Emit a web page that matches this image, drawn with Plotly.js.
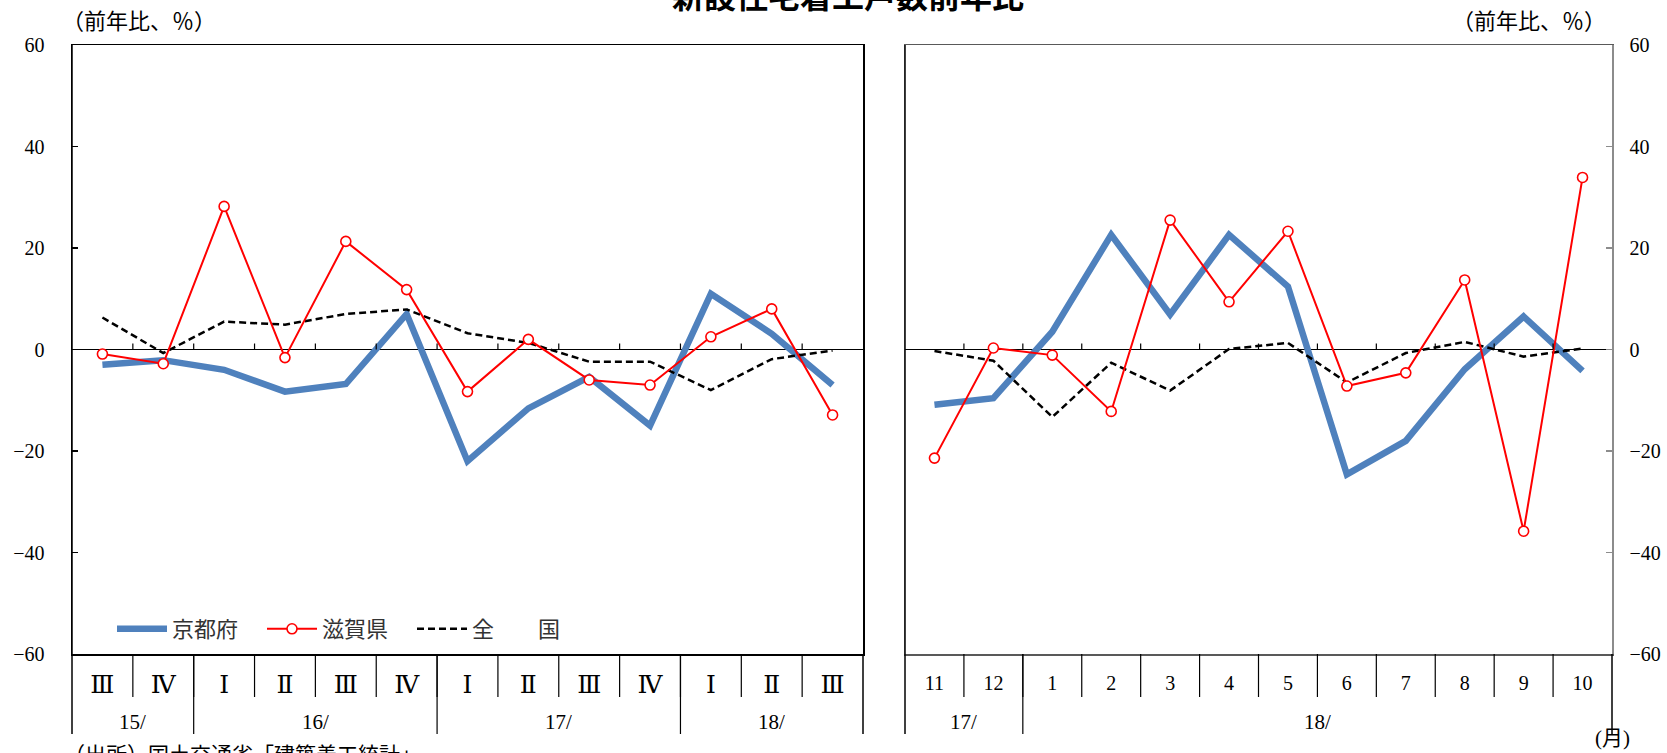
<!DOCTYPE html>
<html><head><meta charset="utf-8">
<script src="https://cdn.plot.ly/plotly-3.0.1.min.js"></script>
<style>html,body{margin:0;padding:0;background:#fff}#chart{width:1667px;height:753px}</style>
</head><body><div id="chart"></div>
<script>
// ---- data: quarterly (left panel) ----
const quarterLabels = ['Ⅲ','Ⅳ','Ⅰ','Ⅱ','Ⅲ','Ⅳ','Ⅰ','Ⅱ','Ⅲ','Ⅳ','Ⅰ','Ⅱ','Ⅲ'];
const quarterYears  = ['15/','15/','16/','16/','16/','16/','17/','17/','17/','17/','18/','18/','18/'];
const kyotoQ    = [-3.0, -2.1, -4.0, -8.3, -6.8, 7.0, -22.0, -11.6, -5.4, -15.0, 11.0, 3.1, -7.0];
const shigaQ    = [-0.9, -2.8, 28.2, -1.6, 21.3, 11.8, -8.3, 2.0, -6.0, -7.0, 2.5, 8.0, -12.9];
const nationalQ = [6.3, -0.7, 5.5, 4.9, 7.0, 7.9, 3.2, 1.3, -2.4, -2.4, -8.0, -1.9, -0.2];

// ---- data: monthly (right panel) ----
const monthLabels = ['11','12','1','2','3','4','5','6','7','8','9','10'];
const monthYears  = ['17/','17/','18/','18/','18/','18/','18/','18/','18/','18/','18/','18/'];
const kyotoM    = [-10.9, -9.6, 3.5, 22.6, 6.9, 22.6, 12.4, -24.6, -18.0, -3.9, 6.5, -4.2];
const shigaM    = [-21.4, 0.3, -1.1, -12.2, 25.5, 9.4, 23.3, -7.2, -4.6, 13.7, -35.8, 33.9];
const nationalM = [-0.3, -2.2, -13.3, -2.6, -8.1, 0.1, 1.3, -6.5, -0.7, 1.5, -1.4, 0.2];

const seriesNames = ['京都府', '滋賀県', '全　　国'];
const yTicks = [-60, -40, -20, 0, 20, 40, 60];
const titleText = '新設住宅着工戸数前年比';
const unitText = '（前年比、％）';
const sourceText = '（出所）国土交通省「建築着工統計」';
const monthUnit = '(月)';

// ---- layout geometry (pixels) ----
const W = 1667, H = 753;
const M = {l: 72, r: 55, t: 45, b: 99};
const PW = W - M.l - M.r, PH = H - M.t - M.b;
const px2x = p => (p - M.l) / PW;
const px2y = p => (H - M.b - p) / PH;

const serif = 'Liberation Serif, DejaVu Serif, Noto Sans CJK JP, serif';
const cjk = 'Liberation Serif, Noto Sans CJK JP, sans-serif';
const blue = '#4F81BD', red = '#FF0000';

const idx = arr => arr.map((_, i) => i);

function panelTraces(xa, ya, k, s, n, showLegend) {
  const x = idx(k);
  return [
    {x: x, y: k, xaxis: xa, yaxis: ya, type: 'scatter', mode: 'lines', name: seriesNames[0],
     line: {color: blue, width: 6.5}, showlegend: showLegend, legendrank: 1, hoverinfo: 'y'},
    {x: x, y: n, xaxis: xa, yaxis: ya, type: 'scatter', mode: 'lines', name: seriesNames[2],
     line: {color: '#000', width: 2.5, dash: '7px,4px'}, showlegend: showLegend, legendrank: 3, hoverinfo: 'y'},
    {x: x, y: s, xaxis: xa, yaxis: ya, type: 'scatter', mode: 'lines+markers', name: seriesNames[1],
     line: {color: red, width: 2},
     marker: {symbol: 'circle', size: 10, color: '#fff', line: {color: red, width: 1.6}},
     showlegend: showLegend, legendrank: 2, hoverinfo: 'y'}
  ];
}

const traces = [].concat(
  panelTraces('x', 'y', kyotoQ, shigaQ, nationalQ, true),
  panelTraces('x2', 'y2', kyotoM, shigaM, nationalM, false)
);

const dom1 = [0, px2x(863)];
const dom2 = [px2x(905), 1];

function xAxis(domain, labels, anchor, lineColor, fontSize, standoff) {
  return {
    domain: domain, anchor: anchor, range: [-0.5, labels.length - 0.5],
    tickmode: 'array', tickvals: idx(labels), ticktext: labels,
    ticks: '', showgrid: false, zeroline: false,
    showline: true, mirror: true, linecolor: lineColor, linewidth: 1.5,
    tickfont: {family: serif, size: fontSize, color: '#000'},
    ticklabelstandoff: standoff, fixedrange: true
  };
}
function yAxis(anchor, side, lineColor, standoff) {
  return {
    anchor: anchor, side: side, range: [-60, 60],
    tickmode: 'array', tickvals: yTicks,
    ticks: 'inside', ticklen: 6, tickwidth: 1.2, tickcolor: lineColor,
    showgrid: false, zeroline: true, zerolinecolor: '#000', zerolinewidth: 1.5,
    showline: true, mirror: true, linecolor: lineColor, linewidth: 1.5,
    tickfont: {family: serif, size: 20, color: '#000'},
    ticklabelstandoff: standoff, fixedrange: true
  };
}

const shapes = [], annotations = [];

function groupShapes(xa, labels, years) {
  const n = labels.length;
  const yQ = px2y(697), yY = px2y(734);
  // inner separators between categories
  for (let i = 0; i < n - 1; i++) {
    shapes.push({type: 'line', xref: xa, yref: 'paper', x0: i + 0.5, x1: i + 0.5, y0: 0, y1: yQ,
                 line: {color: '#000', width: 1.2}});
    // small upward ticks on the zero line
    shapes.push({type: 'line', xref: xa, yref: xa.replace('x', 'y'), ysizemode: 'pixel', yanchor: 0,
                 x0: i + 0.5, x1: i + 0.5, y0: 0, y1: 6, line: {color: '#000', width: 1.2}});
  }
  // group (year) separators and labels
  let start = 0;
  for (let i = 1; i <= n; i++) {
    if (i === n || years[i] !== years[start]) {
      annotations.push({xref: xa, yref: 'paper', x: (start + i - 1) / 2, y: px2y(722),
                        text: years[start], showarrow: false, xanchor: 'center', yanchor: 'middle',
                        font: {family: serif, size: 21, color: '#000'}});
      if (i < n) {
        shapes.push({type: 'line', xref: xa, yref: 'paper', x0: i - 0.5, x1: i - 0.5, y0: 0, y1: yY,
                     line: {color: '#000', width: 1.2}});
      }
      start = i;
    }
  }
  shapes.push({type: 'line', xref: xa + ' domain', yref: 'paper', x0: 0, x1: 0, y0: 1, y1: yY,
               line: {color: '#000', width: 1.5}});
  shapes.push({type: 'line', xref: xa + ' domain', yref: 'paper', x0: 1, x1: 1, y0: 0, y1: yY,
               line: {color: '#000', width: 1.5}});
}
groupShapes('x', quarterLabels, quarterYears);
groupShapes('x2', monthLabels, monthYears);

annotations.push(
  {xref: 'paper', yref: 'paper', x: px2x(848), y: px2y(-6), text: '<b>' + titleText + '</b>',
   showarrow: false, xanchor: 'center', yanchor: 'middle',
   font: {family: 'Noto Sans CJK JP, sans-serif', size: 32, color: '#000'}},
  {xref: 'paper', yref: 'paper', x: px2x(60), y: px2y(21), text: unitText,
   showarrow: false, xanchor: 'left', yanchor: 'middle',
   font: {family: cjk, size: 22, color: '#000'}},
  {xref: 'paper', yref: 'paper', x: px2x(1608), y: px2y(21), text: unitText,
   showarrow: false, xanchor: 'right', yanchor: 'middle',
   font: {family: cjk, size: 22, color: '#000'}},
  {xref: 'x2 domain', yref: 'paper', x: 1, y: px2y(738), text: monthUnit,
   showarrow: false, xanchor: 'center', yanchor: 'middle',
   font: {family: cjk, size: 21, color: '#000'}},
  {xref: 'paper', yref: 'paper', x: px2x(62), y: px2y(755), text: sourceText,
   showarrow: false, xanchor: 'left', yanchor: 'middle',
   font: {family: cjk, size: 21, color: '#000'}}
);

const layout = {
  width: W, height: H, margin: M,
  paper_bgcolor: '#fff', plot_bgcolor: '#fff',
  xaxis: xAxis(dom1, quarterLabels, 'y', '#000', 25, 7),
  yaxis: yAxis('x', 'left', '#000', 22),
  xaxis2: xAxis(dom2, monthLabels, 'y2', '#595959', 20, 10),
  yaxis2: yAxis('x2', 'right', '#8c8c8c', 12),
  showlegend: true,
  legend: {orientation: 'h', x: px2x(112), y: px2y(629), xanchor: 'left', yanchor: 'middle',
           bgcolor: 'rgba(0,0,0,0)', borderwidth: 0, itemwidth: 50,
           traceorder: 'normal', entrywidth: 85,
           font: {family: cjk, size: 22, color: '#333'}},
  shapes: shapes, annotations: annotations
};

Plotly.newPlot('chart', traces, layout, {displayModeBar: false, staticPlot: true});
</script>
</body></html>
